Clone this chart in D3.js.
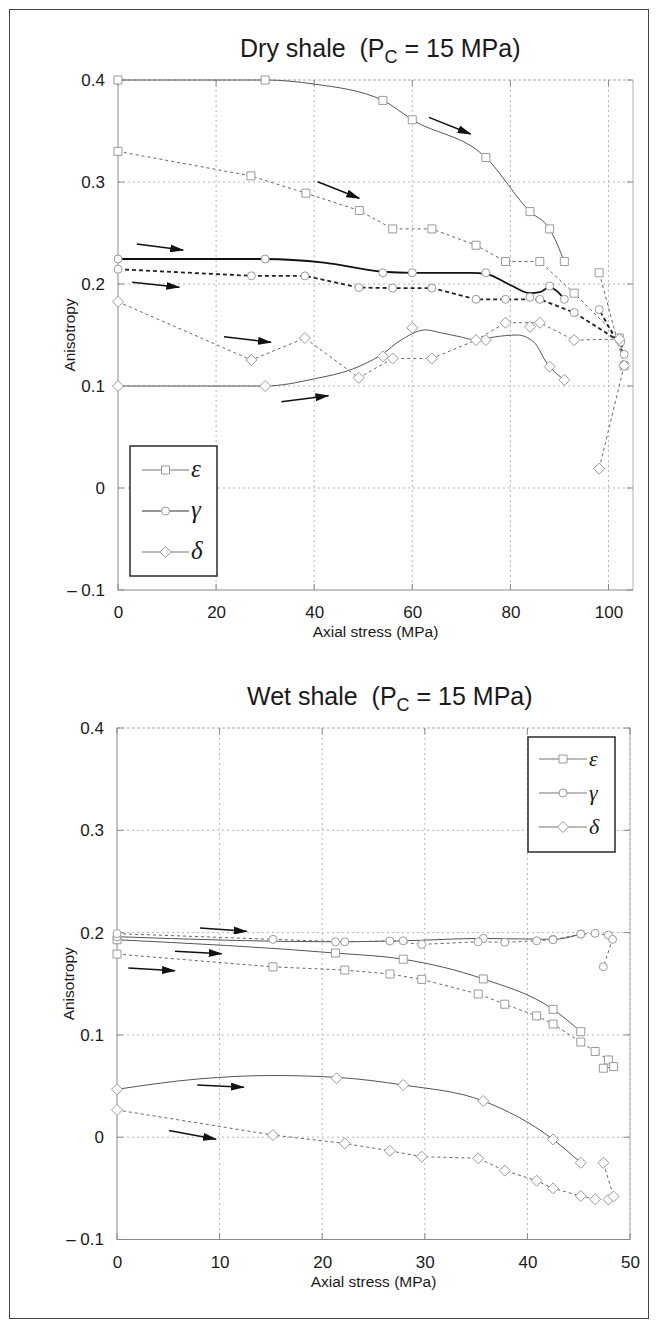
<!DOCTYPE html>
<html>
<head>
<meta charset="utf-8">
<title>Anisotropy vs axial stress</title>
<script src="https://d3js.org/d3.v7.min.js"></script>
<style>
  body { margin: 0; background: #fff; }
  text { font-family: "Liberation Sans", Arial, sans-serif; fill: #1a1a1a; }
</style>
</head>
<body>
<div id="chart"></div>
<script>
// ---------- values ----------
var yTicks = [-0.1, 0, 0.1, 0.2, 0.3, 0.4];
var dryXTicks = [0, 20, 40, 60, 80, 100];
var wetXTicks = [0, 10, 20, 30, 40, 50];
var legendLabels = ["\u03b5", "\u03b3", "\u03b4"];

// dry shale, solid curves: measured points + the smooth fit drawn through them
var dryEpsMarks = [[0,0.4],[30,0.4],[54,0.38],[60,0.361],[75,0.324],[84,0.271],[88,0.254],[91,0.222]];
var dryEpsFit   = [[0,0.4],[30,0.4],[40,0.396],[54,0.38],[60,0.361],[75,0.324],[84,0.271],[88,0.254],[91,0.222]];
var dryGamMarks = [[0,0.2245],[30,0.2245],[54,0.211],[60,0.211],[75,0.211],[84,0.187],[88,0.198],[91,0.185]];
var dryGamFit   = [[0,0.2245],[30,0.2245],[42,0.221],[54,0.212],[60,0.211],[72,0.211],[75,0.21],[80,0.199],[84,0.191],[86,0.192],[88,0.197],[89.5,0.193],[91,0.185]];
var dryDelMarks = [[0,0.1],[30,0.1],[54,0.129],[60,0.157],[75,0.145],[84,0.158],[88,0.119],[91,0.106]];
var dryDelFit   = [[0,0.1],[30,0.1],[40,0.107],[48,0.117],[53.5,0.13],[58,0.146],[62.7,0.155],[66,0.152],[70,0.148],[73,0.145],[76.6,0.148],[81.4,0.15],[84.8,0.143],[87.5,0.122],[91,0.106]];
// dry shale, dashed runs
var dryEpsDash = [[0,0.33],[27.1,0.306],[38.3,0.289],[49.2,0.272],[56,0.254],[64,0.254],[73,0.238],[79,0.222],[86,0.222],[93,0.191],[102.2,0.147],[103.2,0.12],[98.1,0.211]];
var dryGamDash = [[0,0.2145],[27.2,0.208],[38.1,0.208],[49.1,0.1965],[56,0.196],[64,0.196],[73,0.185],[79,0.185],[86,0.185],[93,0.172],[102.5,0.143],[103.2,0.131],[98.1,0.175]];
var dryDelDash = [[0,0.1826],[27.2,0.1255],[38.1,0.147],[49.1,0.108],[56,0.127],[64,0.127],[73,0.145],[79,0.162],[86,0.162],[93,0.145],[102.2,0.146],[103.2,0.12],[98.1,0.019]];
// arrows [x1, y1, x2, y2] in data units
var dryArrows = [[63.4,0.3634,71.9,0.347],[40.7,0.3003,49.2,0.284],[3.8,0.2392,13.3,0.2333],
                 [2.9,0.2017,12.5,0.1968],[21.6,0.1483,31.2,0.1428],[33.3,0.0846,42.9,0.0905]];

// wet shale
var wetEpsMarks = [[0,0.193],[21.3,0.18],[27.9,0.174],[35.7,0.1547],[42.5,0.125],[45.2,0.1032]];
var wetGamMarks = [[0,0.196],[21.3,0.191],[27.9,0.192],[35.7,0.1943],[42.5,0.1934],[45.2,0.1985]];
var wetDelMarks = [[0,0.0468],[21.4,0.0576],[27.9,0.051],[35.7,0.0354],[42.5,-0.0022],[45.2,-0.025]];
var wetDelFit   = [[0,0.0468],[8,0.057],[15.2,0.0603],[21.4,0.0585],[27.9,0.051],[35.7,0.0354],[42.5,-0.0022],[45.2,-0.025]];
var wetEpsDash = [[0,0.179],[15.2,0.1665],[22.2,0.1634],[26.6,0.1595],[29.7,0.1543],[35.2,0.14],[37.8,0.13],[40.9,0.1186],[42.5,0.1106],[45.2,0.093],[46.6,0.0838],[47.9,0.0755],[48.4,0.069],[47.4,0.0674]];
var wetGamDash = [[0,0.199],[15.2,0.1934],[22.2,0.191],[26.6,0.1918],[29.7,0.1885],[35.2,0.191],[37.8,0.1905],[40.9,0.192],[42.5,0.193],[45.2,0.1985],[46.6,0.1993],[47.9,0.1976],[48.3,0.1934],[47.4,0.1666]];
var wetDelDash = [[0,0.0266],[15.2,0.0021],[22.2,-0.0061],[26.6,-0.0133],[29.7,-0.019],[35.2,-0.0206],[37.8,-0.0327],[40.9,-0.0425],[42.5,-0.05],[45.2,-0.0575],[46.6,-0.0607],[47.9,-0.061],[48.4,-0.058],[47.4,-0.025]];
var wetArrows = [[8.09,0.2045,12.64,0.2012],[5.65,0.1817,10.2,0.1793],[1.1,0.1653,5.65,0.1627],
                 [7.82,0.051,12.37,0.0488],[5.07,0.0065,9.65,-0.0019]];

// ---------- drawing ----------
var svg = d3.select("#chart").append("svg").attr("width", 657).attr("height", 1328);

svg.append("defs").append("marker")
  .attr("id", "head").attr("markerUnits", "userSpaceOnUse")
  .attr("viewBox", "0 0 14 8").attr("markerWidth", 14).attr("markerHeight", 8)
  .attr("refX", 13).attr("refY", 4).attr("orient", "auto")
  .append("path").attr("d", "M0,0 L14,4 L0,8 Z").attr("fill", "#111");

// outer frame
svg.append("rect").attr("x", 9.5).attr("y", 9.5).attr("width", 639).attr("height", 1309)
  .attr("fill", "none").attr("stroke", "#444").attr("stroke-width", 1);

function shapePath(kind) {
  if (kind == "square") return "M-4,-4h8v8h-8z";
  if (kind == "diamond") return "M0,-5.5L5.5,0L0,5.5L-5.5,0z";
  return "M-4,0a4,4 0 1,0 8,0a4,4 0 1,0 -8,0";
}

function fmt(d) {
  if (d == 0) return "0";
  return d < 0 ? "\u2013 " + Math.abs(d) : String(d);
}

function drawPanel(p) {
  var x = d3.scaleLinear().domain(p.xDomain).range([p.left, p.right]);
  var y = d3.scaleLinear().domain([-0.1, 0.4]).range([p.bottom, p.top]);
  var g = svg.append("g");

  // grid
  g.selectAll(".vg").data(p.xTicks.filter(function (d) { return d > 0; })).enter().append("line")
    .attr("x1", function (d) { return x(d); }).attr("x2", function (d) { return x(d); })
    .attr("y1", p.top).attr("y2", p.bottom)
    .attr("stroke", "#b5b5b5").attr("stroke-dasharray", "2,3");
  g.selectAll(".hg").data(yTicks.filter(function (d) { return d > -0.1 && d < 0.4; })).enter().append("line")
    .attr("x1", p.left).attr("x2", p.right)
    .attr("y1", function (d) { return y(d); }).attr("y2", function (d) { return y(d); })
    .attr("stroke", "#b5b5b5").attr("stroke-dasharray", "2,3");

  // box
  g.append("line").attr("x1", p.left).attr("x2", p.right).attr("y1", p.top).attr("y2", p.top)
    .attr("stroke", "#a8a8a8").attr("stroke-dasharray", "3,2");
  g.append("line").attr("x1", p.right).attr("x2", p.right).attr("y1", p.top).attr("y2", p.bottom)
    .attr("stroke", "#b0b0b0");
  g.append("line").attr("x1", p.left).attr("x2", p.right).attr("y1", p.bottom).attr("y2", p.bottom)
    .attr("stroke", "#8a8a8a");
  g.append("line").attr("x1", p.left).attr("x2", p.left).attr("y1", p.top).attr("y2", p.bottom)
    .attr("stroke", "#8a8a8a");

  // inward ticks
  g.selectAll(".yt").data(yTicks).enter().append("path")
    .attr("d", function (d) { return "M" + p.left + "," + y(d) + "h6M" + p.right + "," + y(d) + "h-6"; })
    .attr("stroke", "#888");
  g.selectAll(".xt").data(p.xTicks).enter().append("path")
    .attr("d", function (d) { return "M" + x(d) + "," + p.bottom + "v-6M" + x(d) + "," + p.top + "v6"; })
    .attr("stroke", "#888");

  // axes labels
  var ax = g.append("g").attr("transform", "translate(0," + p.bottom + ")")
    .call(d3.axisBottom(x).tickValues(p.xTicks).tickSize(0).tickPadding(16).tickFormat(d3.format("d")));
  var ay = g.append("g").attr("transform", "translate(" + p.left + ",0)")
    .call(d3.axisLeft(y).tickValues(yTicks).tickSize(0).tickPadding(13).tickFormat(fmt));
  [ax, ay].forEach(function (a) {
    a.select(".domain").remove();
    a.selectAll("text").style("font-size", "17px").style("font-family", "Liberation Sans, Arial, sans-serif").attr("fill", "#1a1a1a");
  });

  g.append("text").attr("x", (p.left + p.right) / 2).attr("y", p.bottom + 47)
    .attr("text-anchor", "middle").style("font-size", "15.5px").text("Axial stress (MPa)");
  g.append("text").attr("transform", "translate(" + (p.left - 43) + "," + (p.top + p.bottom) / 2 + ") rotate(-90)")
    .attr("text-anchor", "middle").style("font-size", "15.5px").text("Anisotropy");

  // title
  var t = g.append("text").attr("x", p.titleX).attr("y", p.top - 23)
    .style("font-size", "25px").style("white-space", "pre");
  t.append("tspan").text(p.title + "  (P");
  t.append("tspan").attr("dy", 6).style("font-size", "18px").text("C");
  t.append("tspan").attr("dy", -6).text(" = 15 MPa)");

  var line = d3.line().x(function (d) { return x(d[0]); }).y(function (d) { return y(d[1]); });

  p.series.forEach(function (s) {
    g.append("path").datum(s.data)
      .attr("d", line.curve(s.dash ? d3.curveLinear : d3.curveMonotoneX))
      .attr("fill", "none").attr("stroke", s.color).attr("stroke-width", s.width)
      .attr("stroke-dasharray", s.dash ? s.dash : null);
  });
  p.series.forEach(function (s) {
    g.selectAll(null).data(s.marks || s.data).enter().append("path")
      .attr("transform", function (d) { return "translate(" + x(d[0]) + "," + y(d[1]) + ")"; })
      .attr("d", shapePath(s.shape))
      .attr("fill", "#fff").attr("stroke", "#9a9a9a").attr("stroke-width", 1);
  });

  // arrows
  g.selectAll(".arr").data(p.arrows).enter().append("line")
    .attr("x1", function (d) { return x(d[0]); }).attr("y1", function (d) { return y(d[1]); })
    .attr("x2", function (d) { return x(d[2]); }).attr("y2", function (d) { return y(d[3]); })
    .attr("stroke", "#111").attr("stroke-width", 1.5).attr("marker-end", "url(#head)");

  // legend
  var L = p.legend;
  var lg = g.append("g");
  lg.append("rect").attr("x", L.x).attr("y", L.y).attr("width", L.w).attr("height", L.h)
    .attr("fill", "#fff").attr("stroke", "#2a2a2a").attr("stroke-width", 1.5);
  var shapes = ["square", "circle", "diamond"];
  legendLabels.forEach(function (lab, i) {
    var ly = L.y + L.first + i * L.step;
    lg.append("line").attr("x1", L.x + L.pad).attr("x2", L.x + L.pad + L.len)
      .attr("y1", ly).attr("y2", ly).attr("stroke", L.colors[i]).attr("stroke-width", 1.2);
    lg.append("path").attr("transform", "translate(" + (L.x + L.pad + L.len / 2) + "," + ly + ")")
      .attr("d", shapePath(shapes[i])).attr("fill", "#fff").attr("stroke", "#9a9a9a");
    lg.append("text").attr("x", L.x + L.pad + L.len + 2).attr("y", ly + 6.5)
      .style("font-family", "Liberation Serif, Times New Roman, serif").style("font-style", "italic")
      .style("font-size", L.font + "px").text(lab);
  });
}

drawPanel({
  title: "Dry shale", titleX: 240,
  xDomain: [0, 105], xTicks: dryXTicks,
  left: 118, right: 633, top: 80, bottom: 590,
  series: [
    { data: dryEpsFit, marks: dryEpsMarks, shape: "square", color: "#555", width: 1 },
    { data: dryEpsDash, shape: "square", color: "#666", width: 1, dash: "3,3" },
    { data: dryGamFit, marks: dryGamMarks, shape: "circle", color: "#111", width: 1.8 },
    { data: dryGamDash, shape: "circle", color: "#222", width: 1.8, dash: "4,3" },
    { data: dryDelFit, marks: dryDelMarks, shape: "diamond", color: "#555", width: 1 },
    { data: dryDelDash, shape: "diamond", color: "#666", width: 1, dash: "3,3" }
  ],
  arrows: dryArrows,
  legend: { x: 130, y: 446, w: 87, h: 130, first: 24, step: 41, pad: 12, len: 47, font: 25,
            colors: ["#777", "#333", "#777"] }
});

drawPanel({
  title: "Wet shale", titleX: 247,
  xDomain: [0, 50], xTicks: wetXTicks,
  left: 117, right: 630, top: 728, bottom: 1239.5,
  series: [
    { data: wetEpsMarks, shape: "square", color: "#555", width: 1 },
    { data: wetEpsDash, shape: "square", color: "#666", width: 1, dash: "3,3" },
    { data: wetGamMarks, shape: "circle", color: "#555", width: 1 },
    { data: wetGamDash, shape: "circle", color: "#666", width: 1, dash: "3,3" },
    { data: wetDelFit, marks: wetDelMarks, shape: "diamond", color: "#555", width: 1 },
    { data: wetDelDash, shape: "diamond", color: "#666", width: 1, dash: "3,3" }
  ],
  arrows: wetArrows,
  legend: { x: 528, y: 737, w: 87, h: 115, first: 22, step: 34, pad: 11, len: 48, font: 22,
            colors: ["#777", "#777", "#777"] }
});
</script>
</body>
</html>
